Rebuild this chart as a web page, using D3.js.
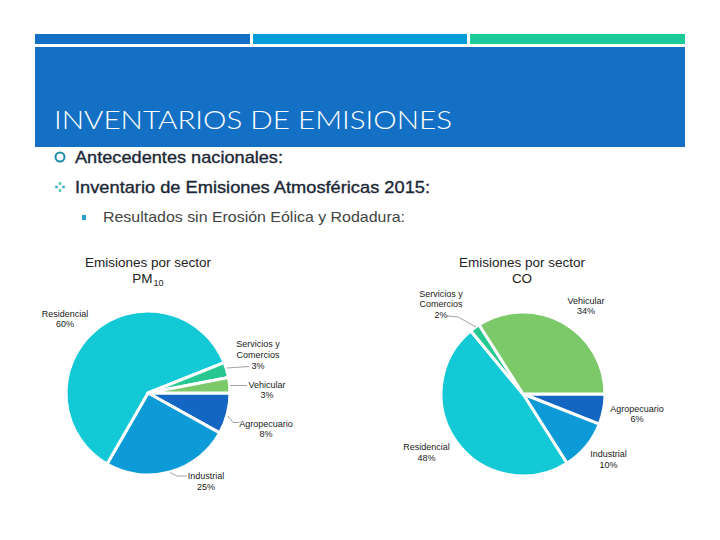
<!DOCTYPE html>
<html>
<head>
<meta charset="utf-8">
<script src="https://cdn.jsdelivr.net/npm/d3@7"></script>
<style>
  html, body { margin: 0; padding: 0; background: #ffffff; }
  svg { display: block; }
</style>
</head>
<body>
<svg id="chart" width="720" height="540"></svg>
<script>
// ---------- data ----------
const slideTitle = "INVENTARIOS DE EMISIONES";
const bulletLines = [
  "Antecedentes nacionales:",
  "Inventario de Emisiones Atmosféricas 2015:",
  "Resultados sin Erosión Eólica y Rodadura:"
];
const sectors = ["Agropecuario", "Industrial", "Residencial", "Servicios y Comercios", "Vehicular"];
const sectorColors = ["#1466C3", "#0C9BD6", "#14C9D6", "#27C792", "#7CC96A"];
const pmValues = [8, 25, 60, 3, 3];
const coValues = [6, 10, 48, 2, 34];
const pmTitle = ["Emisiones por sector", "PM", "10"];
const coTitle = ["Emisiones por sector", "CO"];

// ---------- layout ----------
const svg = d3.select("#chart");

// header stripes
const stripes = [
  {x0: 35, x1: 250, c: "#1470C4"},
  {x0: 253, x1: 467, c: "#049DD8"},
  {x0: 470, x1: 685, c: "#1CCB9A"}
];
svg.selectAll("rect.stripe").data(stripes).join("rect")
  .attr("class", "stripe")
  .attr("x", d => d.x0).attr("y", 34)
  .attr("width", d => d.x1 - d.x0).attr("height", 10)
  .attr("fill", d => d.c);

svg.append("rect").attr("x", 35).attr("y", 47).attr("width", 650).attr("height", 100)
  .attr("fill", "#1470C4");

svg.append("text").attr("x", 54).attr("y", 129)
  .attr("font-family", "Lato, 'Open Sans', sans-serif")
  .attr("font-weight", 300)
  .attr("font-size", 25)
  .attr("fill", "#ffffff")
  .attr("textLength", 398).attr("lengthAdjust", "spacingAndGlyphs")
  .text(slideTitle);

// bullets
svg.append("circle").attr("cx", 60).attr("cy", 157).attr("r", 4.5)
  .attr("fill", "none").attr("stroke", "#1F8CA8").attr("stroke-width", 2);

const dotOffsets = [[0, -3.5], [3.5, 0], [0, 3.5], [-3.5, 0]];
svg.selectAll("rect.dot").data(dotOffsets).join("rect")
  .attr("class", "dot")
  .attr("x", d => 60 + d[0] - 1.3).attr("y", d => 187 + d[1] - 1.3)
  .attr("width", 2.6).attr("height", 2.6)
  .attr("fill", (d, i) => i % 2 ? "#3FB0D0" : "#4CC9A8");

svg.append("rect").attr("x", 82).attr("y", 215).attr("width", 4).attr("height", 5)
  .attr("fill", "#2A9EC4");

const bulletSpecs = [
  {x: 75, y: 163, size: 17, fill: "#1B2736", len: 208, sw: 0.35},
  {x: 75, y: 193, size: 17, fill: "#1B2736", len: 355, sw: 0.35},
  {x: 103, y: 222, size: 15, fill: "#444444", len: 302, sw: 0}
];
svg.selectAll("text.bullet").data(bulletLines).join("text")
  .attr("class", "bullet")
  .attr("x", (d, i) => bulletSpecs[i].x)
  .attr("y", (d, i) => bulletSpecs[i].y)
  .attr("font-family", "'Liberation Sans', Arial, sans-serif")
  .attr("font-size", (d, i) => bulletSpecs[i].size)
  .attr("fill", (d, i) => bulletSpecs[i].fill)
  .attr("stroke", (d, i) => bulletSpecs[i].fill)
  .attr("stroke-width", (d, i) => bulletSpecs[i].sw)
  .attr("textLength", (d, i) => bulletSpecs[i].len)
  .attr("lengthAdjust", "spacingAndGlyphs")
  .text(d => d);

// ---------- pies ----------
const color = d3.scaleOrdinal().domain(sectors).range(sectorColors);
const pie = d3.pie().sort(null).value(d => d.v)
  .startAngle(Math.PI / 2).endAngle(Math.PI / 2 + 2 * Math.PI);
const R = 82;
const arc = d3.arc().innerRadius(0).outerRadius(R);

function drawPie(cx, cy, values, labels) {
  const data = sectors.map((s, i) => ({s, v: values[i]}));
  const g = svg.append("g").attr("transform", `translate(${cx},${cy})`);
  g.selectAll("path").data(pie(data)).join("path")
    .attr("d", arc)
    .attr("fill", d => color(d.data.s))
    .attr("stroke", "#ffffff")
    .attr("stroke-width", 3)
    .attr("stroke-linejoin", "round");

  // labels
  labels.forEach(l => {
    if (l.leader) {
      g.append("polyline")
        .attr("points", l.leader.map(p => p.join(",")).join(" "))
        .attr("fill", "none").attr("stroke", "#8C8C8C").attr("stroke-width", 0.8);
    }
    const t = g.append("text")
      .attr("font-family", "'Liberation Sans', Arial, sans-serif")
      .attr("font-size", 9)
      .attr("fill", "#1A1A1A")
      .attr("text-anchor", "middle");
    l.lines.forEach((line, k) => {
      t.append("tspan").attr("x", l.x).attr("y", l.y + k * 10.8).text(line);
    });
  });
}

function pct(values, i) {
  return values[i] + "%";
}

// PM10 pie, center (148,393)
const pmC = [148, 393];
drawPie(pmC[0], pmC[1], pmValues, [
  {lines: ["Residencial", pct(pmValues, 2)], x: 65 - pmC[0], y: 316.5 - pmC[1]},
  {lines: ["Servicios y", "Comercios", pct(pmValues, 3)], x: 258 - pmC[0], y: 347 - pmC[1],
   leader: [[227 - pmC[0], 368 - pmC[1]], [249 - pmC[0], 366.5 - pmC[1]]]},
  {lines: ["Vehicular", pct(pmValues, 4)], x: 267 - pmC[0], y: 387.5 - pmC[1],
   leader: [[230 - pmC[0], 385.5 - pmC[1]], [247 - pmC[0], 385.5 - pmC[1]]]},
  {lines: ["Agropecuario", pct(pmValues, 0)], x: 266 - pmC[0], y: 426.5 - pmC[1],
   leader: [[228 - pmC[0], 416 - pmC[1]], [233 - pmC[0], 422.5 - pmC[1]], [239.5 - pmC[0], 422.5 - pmC[1]]]},
  {lines: ["Industrial", pct(pmValues, 1)], x: 206 - pmC[0], y: 479 - pmC[1],
   leader: [[170 - pmC[0], 472.5 - pmC[1]], [177 - pmC[0], 476 - pmC[1]], [187 - pmC[0], 476 - pmC[1]]]}
]);

// CO pie, center (523,394)
const coC = [523, 394];
drawPie(coC[0], coC[1], coValues, [
  {lines: ["Servicios y", "Comercios", pct(coValues, 3)], x: 441 - coC[0], y: 296.5 - coC[1],
   leader: [[447 - coC[0], 316 - coC[1]], [458 - coC[0], 317 - coC[1]], [476 - coC[0], 327 - coC[1]]]},
  {lines: ["Vehicular", pct(coValues, 4)], x: 586 - coC[0], y: 303.5 - coC[1]},
  {lines: ["Agropecuario", pct(coValues, 0)], x: 637 - coC[0], y: 411.5 - coC[1]},
  {lines: ["Industrial", pct(coValues, 1)], x: 608.5 - coC[0], y: 457 - coC[1]},
  {lines: ["Residencial", pct(coValues, 2)], x: 426.5 - coC[0], y: 450 - coC[1]}
]);

// ---------- chart titles ----------
function chartTitle(cx, lines, sub) {
  svg.append("text").attr("x", cx).attr("y", 267)
    .attr("text-anchor", "middle")
    .attr("font-family", "'Liberation Sans', Arial, sans-serif")
    .attr("font-size", 13.5).attr("fill", "#222222")
    .text(lines[0]);
  const t = svg.append("text").attr("x", cx).attr("y", 282.5)
    .attr("text-anchor", "middle")
    .attr("font-family", "'Liberation Sans', Arial, sans-serif")
    .attr("font-size", 13.5).attr("fill", "#222222");
  t.append("tspan").text(lines[1]);
  if (sub) {
    t.append("tspan").attr("dx", 1).attr("dy", 3).attr("font-size", 9).text(sub);
  }
}
chartTitle(148, pmTitle, pmTitle[2]);
chartTitle(522, coTitle, null);
</script>
</body>
</html>
